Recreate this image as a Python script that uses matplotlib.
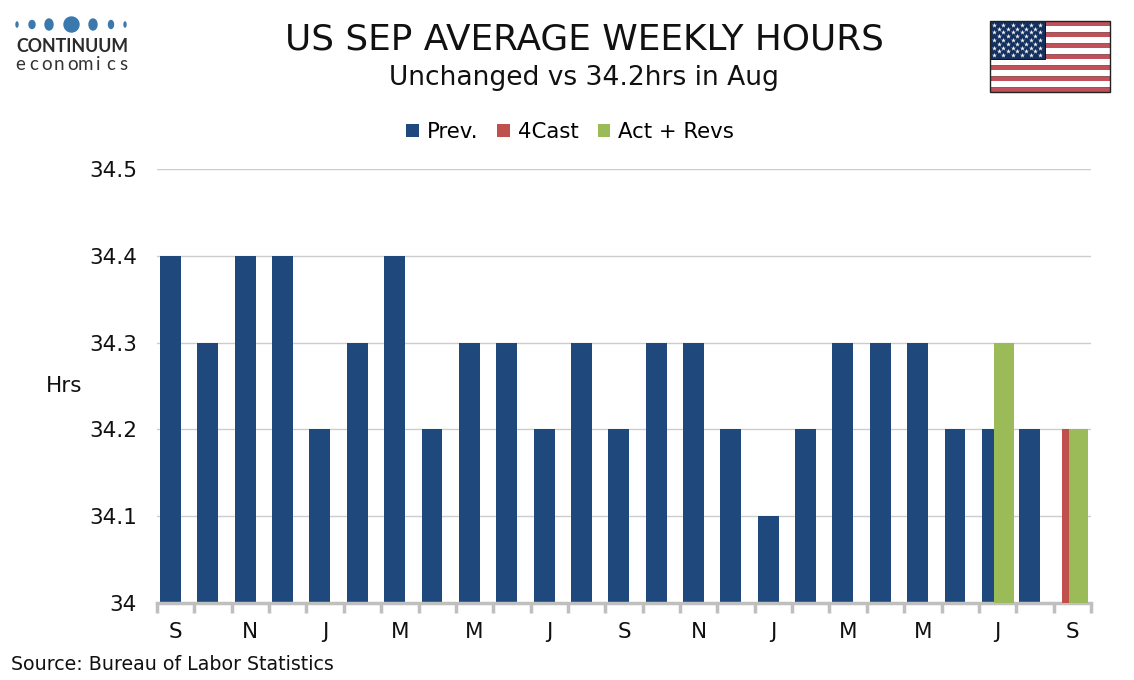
import numpy as np
from matplotlib import pyplot as plt
from matplotlib.patches import Ellipse, Rectangle

W, H = 1134, 680

months = ['S', 'O', 'N', 'D', 'J', 'F', 'M', 'A', 'M', 'J', 'J', 'A',
          'S', 'O', 'N', 'D', 'J', 'F', 'M', 'A', 'M', 'J', 'J', 'A', 'S']
prev = [34.4, 34.3, 34.4, 34.4, 34.2, 34.3, 34.4, 34.2, 34.3, 34.3, 34.2, 34.3,
        34.2, 34.3, 34.3, 34.2, 34.1, 34.2, 34.3, 34.3, 34.3, 34.2, 34.2, 34.2, np.nan]
forecast = [np.nan] * 24 + [34.2]
actual = [np.nan] * 22 + [34.3, np.nan, 34.2]
y_ticks = [34, 34.1, 34.2, 34.3, 34.4, 34.5]
y_labels = ['34', '34.1', '34.2', '34.3', '34.4', '34.5']

NAVY = '#1f497d'
RED = '#c0504d'
GREEN = '#9bbb59'
GREY = '#bfbfbf'

plt.rcParams['font.family'] = ['DejaVu Sans']
fig = plt.figure(figsize=(W / 100, H / 100), dpi=100)


def px_axes(x0, y0, x1, y1):
    # pixel box measured from the top left of the picture
    return fig.add_axes([x0 / W, 1 - y1 / H, (x1 - x0) / W, (y1 - y0) / H])


ax = px_axes(157, 169, 1091, 603)
x = np.arange(len(months))

ax.bar(x - 0.14, prev, 0.56, color=NAVY, label='Prev.', zorder=2)
ax.bar(x - 0.006, forecast, 0.54, color=RED, label='4Cast', zorder=3)
ax.bar(x + 0.165, actual, 0.53, color=GREEN, label='Act + Revs', zorder=4)

ax.set_xlim(-0.5, len(months) - 0.5)
ax.set_ylim(34, 34.5)
ax.set_yticks(y_ticks)
ax.set_yticklabels(y_labels, fontsize=15.5, color='#111111')
ax.tick_params(axis='y', length=0, pad=14.5)
ax.grid(axis='y', color='#cccccc', linewidth=1, zorder=1)
ax.set_axisbelow(True)

# tick marks sit between the months, labels on every second month
ax.set_xticks(np.arange(len(months) + 1) - 0.5)
ax.set_xticklabels([])
ax.tick_params(axis='x', which='major', length=7, width=2.5, color=GREY)
ax.set_xticks(x[::2], minor=True)
ax.set_xticklabels(months[::2], minor=True, fontsize=15.5, color='#111111')
ax.tick_params(axis='x', which='minor', length=0, pad=14)

for side in ['top', 'right', 'left']:
    ax.spines[side].set_visible(False)
ax.spines['bottom'].set_color(GREY)
ax.spines['bottom'].set_linewidth(2.5)

fig.legend(*ax.get_legend_handles_labels(), loc='center', bbox_to_anchor=(570 / W, 1 - 132 / H),
           ncol=3, frameon=False, fontsize=15.3, handlelength=0.58, handleheight=0.58,
           handletextpad=0.38, columnspacing=0.9)

fig.text(584 / W, 1 - 40 / H, 'US SEP AVERAGE WEEKLY HOURS', ha='center', va='center',
         fontsize=25.8, color='#111111')
fig.text(584 / W, 1 - 78 / H, 'Unchanged vs 34.2hrs in Aug', ha='center', va='center',
         fontsize=19.1, color='#111111')
fig.text(64 / W, 1 - 386 / H, 'Hrs', ha='center', va='center', fontsize=15.5, color='#111111')
fig.text(11 / W, 1 - 664 / H, 'Source: Bureau of Labor Statistics', ha='left', va='center',
         fontsize=13.7, color='#111111')

# logo
logo = px_axes(0, 0, 150, 80)
logo.set_xlim(0, 150)
logo.set_ylim(80, 0)
logo.axis('off')
dots = [(17, 2, 5), (32, 6, 8), (49, 8, 11), (71.5, 15, 15), (93, 8, 11), (111, 5, 8), (125, 2, 5)]
for cx, dw, dh in dots:
    logo.add_patch(Ellipse((cx, 24.5), dw, dh, color='#3a78ad'))
logo.text(72, 47, 'CONTINUUM', ha='center', va='center', fontsize=12.8, family='Lato',
          weight='bold', color='#2b2b2b')
# spaced out letter by letter, the logo tracking is much wider than the font
for i, letter in enumerate('economics'):
    logo.text(20.5 + i * 12.9, 65, letter, ha='center', va='center', fontsize=13.5, family='Lato',
              color='#333333')

# flag
flag = px_axes(990, 21, 1110, 92)
flag.set_xlim(0, 120)
flag.set_ylim(71, 0)
flag.axis('off')
stripe = 71 / 13
for i in range(13):
    flag.add_patch(Rectangle((0, i * stripe), 120, stripe, facecolor='#c2505a' if i % 2 == 0 else 'white',
                             edgecolor='#7a3034' if i % 2 == 0 else 'none', linewidth=0.5))
flag.add_patch(Rectangle((0, 0), 55, 38, facecolor='#14305f', edgecolor='#111111', linewidth=0.7))
star_x, star_y = [], []
for r in range(9):
    n = 6 if r % 2 == 0 else 5
    for c in range(n):
        star_x.append(4.3 + 9.1 * c + (0 if r % 2 == 0 else 4.55))
        star_y.append(3.7 + 3.8 * r)
flag.scatter(star_x, star_y, marker='*', s=14, color='#f2f2f2', linewidths=0, zorder=5)
flag.add_patch(Rectangle((0, 0), 120, 71, fill=False, edgecolor='#222222', linewidth=1, clip_on=False))

plt.savefig('out.png', dpi=100)
